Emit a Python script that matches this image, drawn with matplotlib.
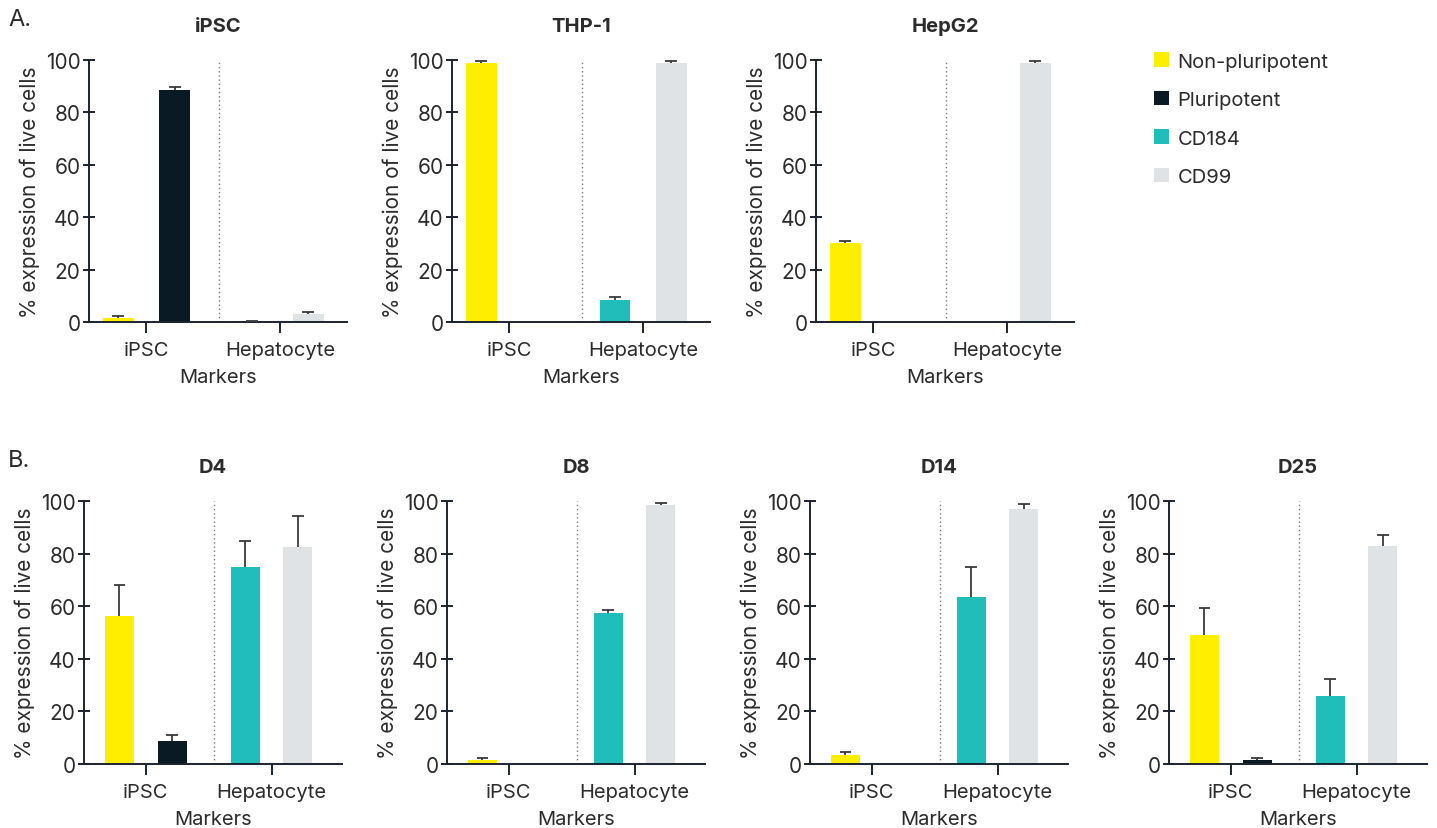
import matplotlib
matplotlib.use("Agg")
import matplotlib.pyplot as plt
from matplotlib.patches import Patch
import numpy as np

plt.rcParams['font.family'] = ['Inter', 'DejaVu Sans']

panels = ["iPSC", "THP-1", "HepG2", "D4", "D8", "D14", "D25"]
groups = ["iPSC", "Hepatocyte"]
series = ["Non-pluripotent", "Pluripotent", "CD184", "CD99"]
colors = ["#FFEE00", "#0A1A24", "#21BDBB", "#DFE3E6"]

non_pluri = [1.5, 98.9, 30.3, 56.2, 1.5, 3.5, 49.1]
non_pluri_err = [0.9, 0.7, 0.6, 12.0, 0.8, 0.9, 10.1]
pluri = [88.5, 0, 0, 8.7, 0, 0, 1.4]
pluri_err = [1.1, 0, 0, 2.4, 0, 0, 0.9]
cd184 = [0.2, 8.4, 0, 74.9, 57.4, 63.5, 25.9]
cd184_err = [0.3, 1.0, 0, 10.0, 1.0, 11.4, 6.4]
cd99 = [3.0, 98.9, 98.9, 82.5, 98.5, 97.0, 83.0]
cd99_err = [0.9, 0.7, 0.7, 11.8, 0.7, 1.7, 3.9]

values = [non_pluri, pluri, cd184, cd99]
errors = [non_pluri_err, pluri_err, cd184_err, cd99_err]

W, H = 1437, 829
fig = plt.figure(figsize=(W / 100, H / 100), dpi=100)

txt = "#2b2b2b"
axc = "#1a2430"

# pixel layout: (left, top, width, height)
lefts_top = [89, 452, 816]
lefts_bot = [84, 447, 810, 1169]
boxes = [(l, 61, 258, 262) for l in lefts_top] + [(l, 502, 258, 263) for l in lefts_bot]

off = 0.21
bw = 0.23
# group position of each series, and shift inside the group
cat_of = [0, 0, 1, 1]
shift = [-off, off, -off, off]

for i, name in enumerate(panels):
    l, t, w, h = boxes[i]
    ax = fig.add_axes([l / W, 1 - (t + h) / H, w / W, h / H])
    for s in range(4):
        x = cat_of[s] + shift[s]
        v = values[s][i]
        e = errors[s][i]
        if v > 0:
            ax.bar(x, v, width=bw, color=colors[s], zorder=2)
        if e > 0:
            ax.vlines(x, v, v + e, color="#3a3a3a", lw=1.3, zorder=3)
            ax.hlines(v + e, x - 0.045, x + 0.045, color="#3a3a3a", lw=1.3, zorder=3)
    ax.axvline(0.54, 0, 1, color="#777777", lw=1.0, ls=(0, (1, 2)), zorder=1)
    if i < 3:
        ax.set_xlim(-0.43, 1.5)
    else:
        ax.set_xlim(-0.49, 1.56)
    ax.set_ylim(0, 100)
    ax.set_yticks([0, 20, 40, 60, 80, 100])
    ax.set_xticks([0, 1])
    ax.set_xticklabels(groups)
    for sp in ["top", "right"]:
        ax.spines[sp].set_visible(False)
    for sp in ["left", "bottom"]:
        ax.spines[sp].set_color(axc)
        ax.spines[sp].set_linewidth(1.4)
    ax.tick_params(axis="y", direction="inout", length=8, width=1.4, color=axc,
                   labelsize=15, labelcolor=txt, pad=2)
    ax.tick_params(axis="x", direction="out", length=8, width=1.4, color=axc,
                   labelsize=14.5, labelcolor=txt, pad=6)
    ax.set_xlabel("Markers", fontsize=14.5, color=txt, labelpad=6)
    ax.set_ylabel("% expression of live cells", fontsize=15, color=txt, labelpad=4)
    ax.set_title(name, fontsize=14.5, fontweight="bold", color=txt, pad=21)

fig.text(8 / W, 1 - 20 / H, "A.", fontsize=17, color=txt, va="center", ha="left")
fig.text(8 / W, 1 - 461 / H, "B.", fontsize=17, color=txt, va="center", ha="left")

handles = [Patch(facecolor=c, edgecolor="none") for c in colors]
fig.legend(handles, series, loc="upper left", bbox_to_anchor=(1136 / W, 1 - 35 / H),
           frameon=False, fontsize=14.5, handlelength=0.75, handleheight=0.75,
           handletextpad=0.4, labelspacing=1.0, labelcolor=txt)

fig.savefig("out.png", dpi=100)
